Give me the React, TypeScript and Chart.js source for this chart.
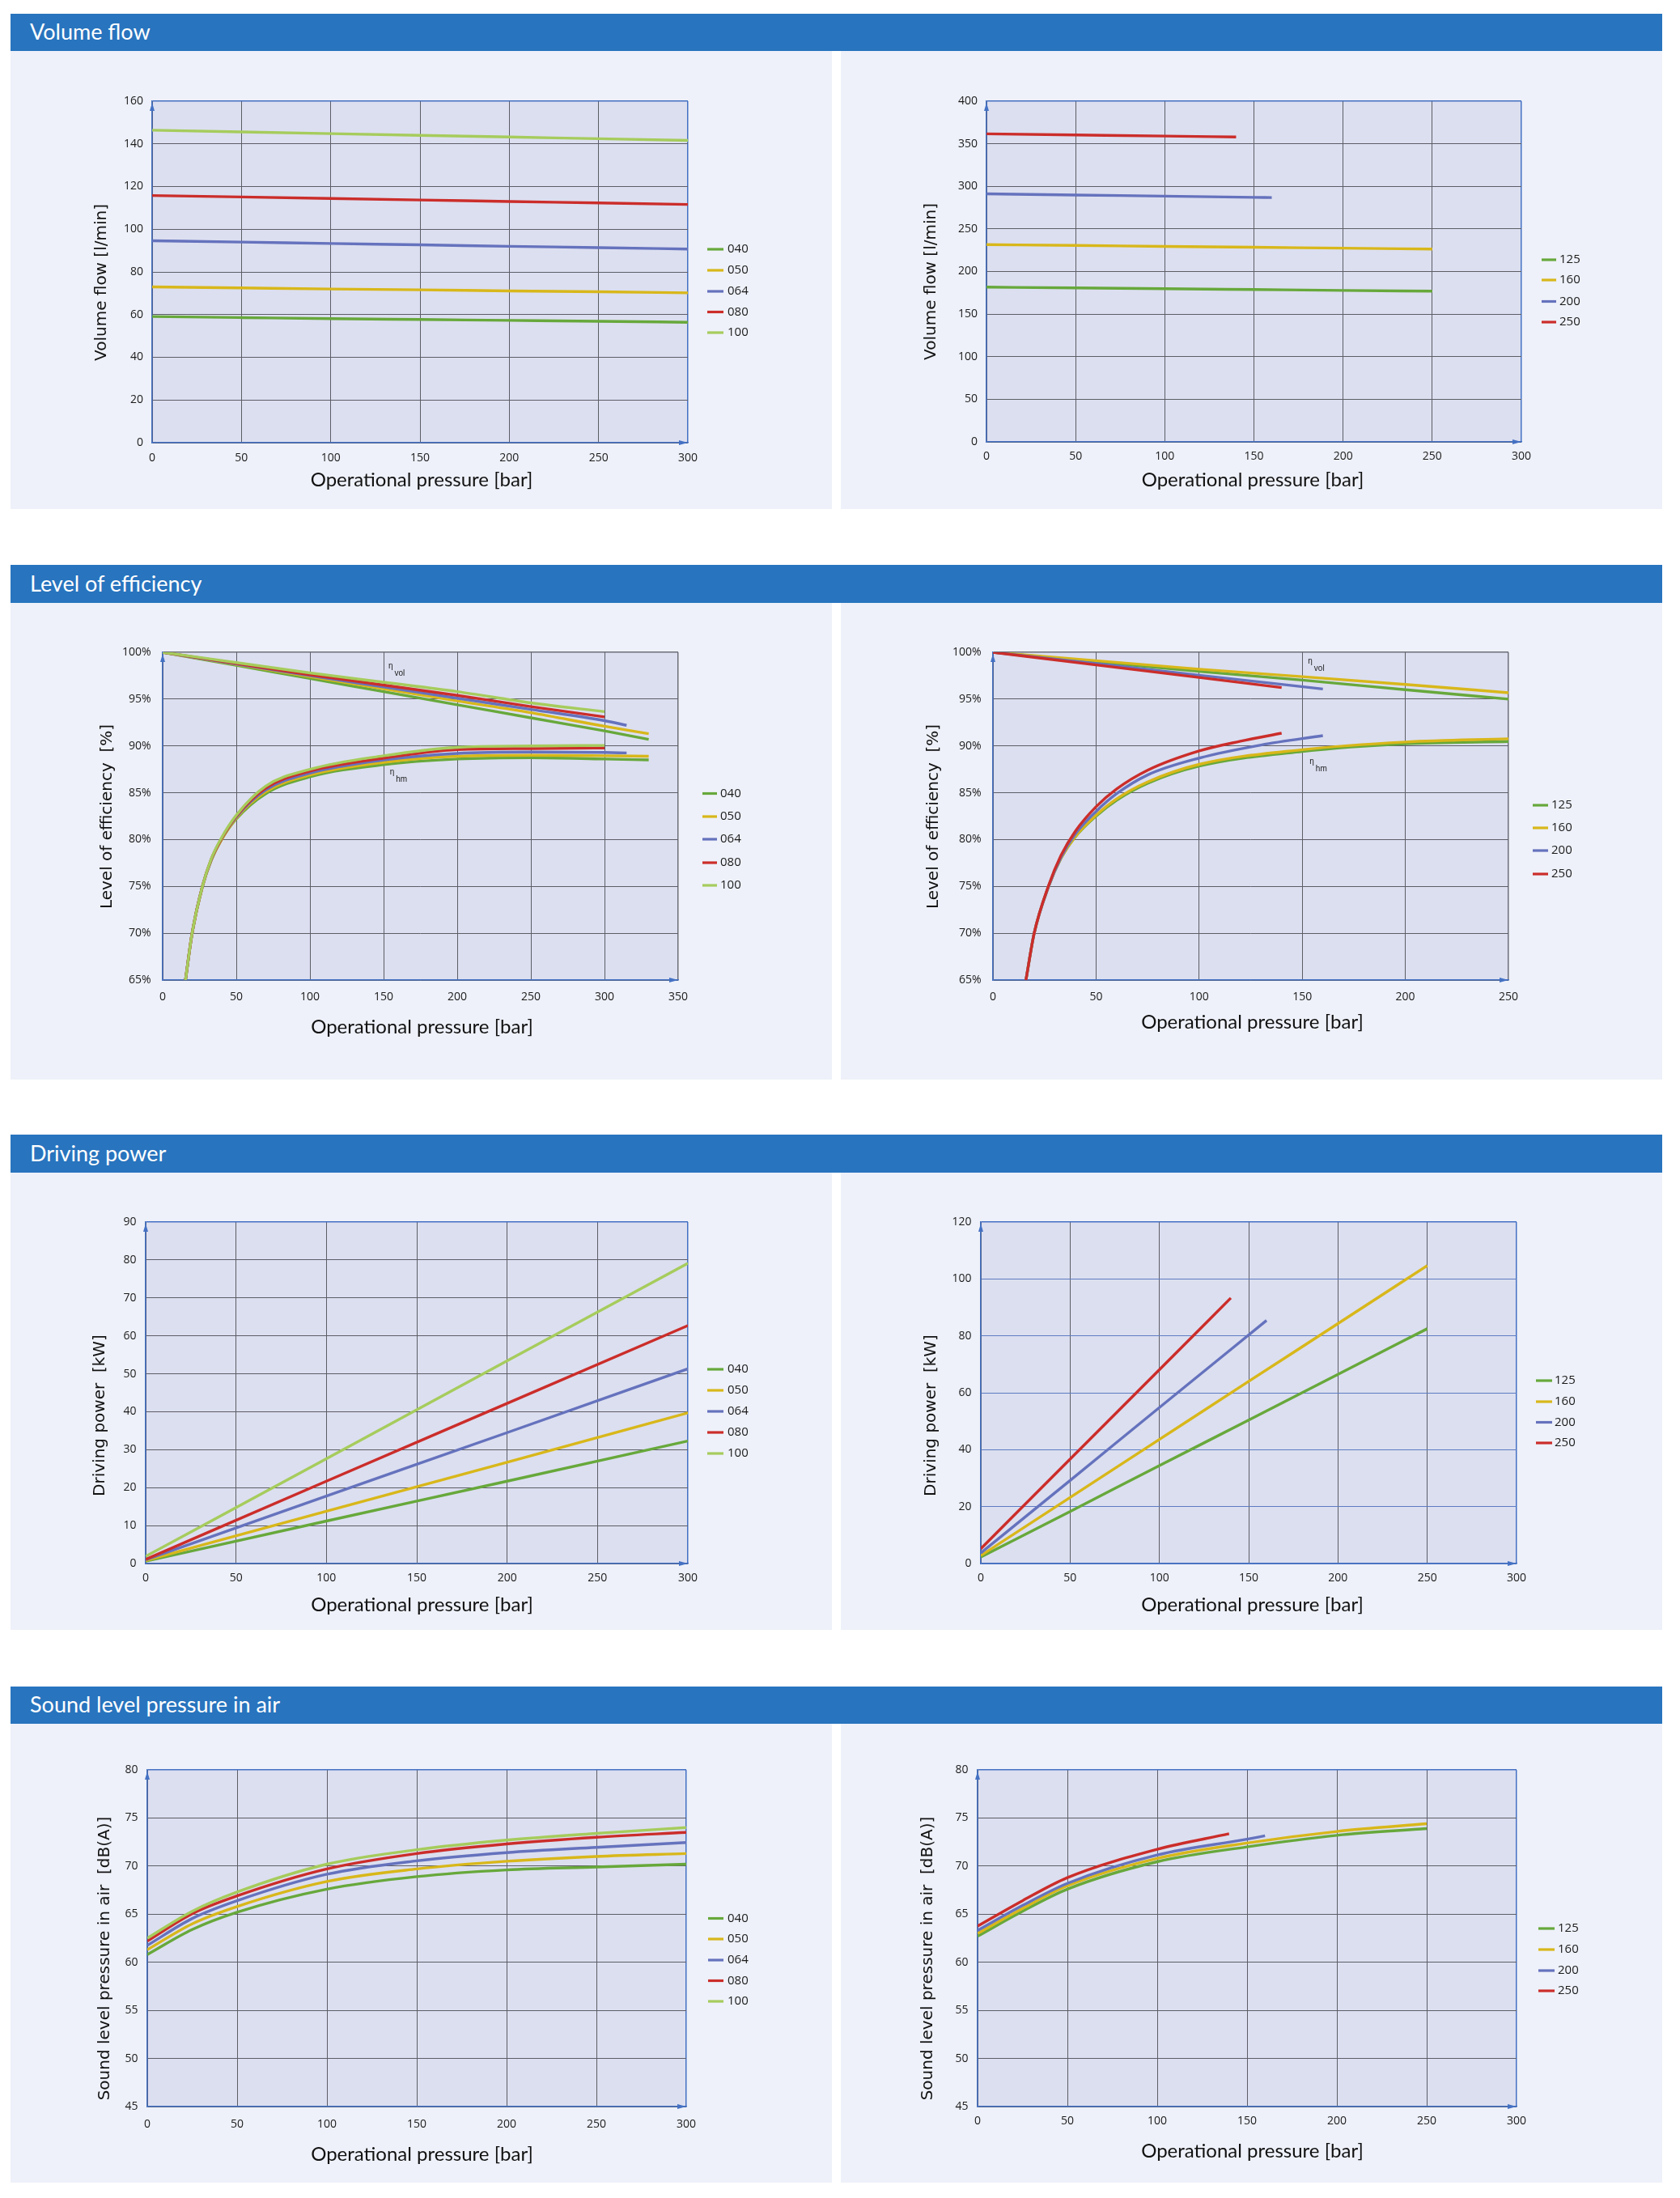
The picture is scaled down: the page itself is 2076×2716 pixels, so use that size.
import React, { useEffect, useRef } from 'react';
import { Chart, registerables } from 'chart.js';

Chart.register(...registerables);

// ================= Categories / texts =================
const SMALL_SIZES = ['040', '050', '064', '080', '100'];
const LARGE_SIZES = ['125', '160', '200', '250'];
const SECTION_TITLES = ['Volume flow', 'Level of efficiency', 'Driving power', 'Sound level pressure in air'];
const X_TITLE = 'Operational pressure [bar]';
const Y_TITLES = [
  'Volume flow [l/min]',
  'Level of efficiency  [%]',
  'Driving power  [kW]',
  'Sound level pressure in air  [dB(A)]',
];
const ETA = 'η';
const ETA_VOL = 'vol';
const ETA_HM = 'hm';

// ================= Axis ranges =================
const X_RANGE_300 = [0, 300, 50];
const X_RANGE_350 = [0, 350, 50];
const X_RANGE_250 = [0, 250, 50];
const Y_VF_SMALL = [0, 160, 20];
const Y_VF_LARGE = [0, 400, 50];
const Y_EFF = [65, 100, 5];
const Y_DP_SMALL = [0, 90, 10];
const Y_DP_LARGE = [0, 120, 20];
const Y_SOUND = [45, 80, 5];

// ================= Volume flow [l/min] =================
const VF_S_P = [0, 50, 100, 150, 200, 250, 300];
const VF_040 = [59.1, 58.6, 58.1, 57.7, 57.3, 56.9, 56.4];
const VF_050 = [73.0, 72.5, 72.0, 71.6, 71.1, 70.7, 70.2];
const VF_064 = [94.6, 94.0, 93.3, 92.7, 92.0, 91.4, 90.7];
const VF_080 = [115.8, 115.1, 114.4, 113.7, 113.0, 112.3, 111.6];
const VF_100 = [146.4, 145.6, 144.8, 144.0, 143.2, 142.4, 141.6];

const VF_125_P = [0, 50, 100, 150, 200, 250];
const VF_125 = [181.7, 180.7, 179.8, 178.8, 177.8, 176.9];
const VF_160_P = [0, 50, 100, 150, 200, 250];
const VF_160 = [231.6, 230.6, 229.5, 228.5, 227.4, 226.4];
const VF_200_P = [0, 50, 100, 150, 160];
const VF_200 = [291.2, 289.8, 288.5, 287.1, 286.8];
const VF_250_P = [0, 50, 100, 140];
const VF_250 = [361.6, 360.3, 359.0, 358.0];

// ================= Level of efficiency [%] =================
// volumetric efficiency (eta vol)
const EV_040_P = [0, 50, 100, 150, 200, 250, 300, 330];
const EV_040 = [100, 98.6, 97.2, 95.8, 94.4, 93.0, 91.6, 90.7];
const EV_050_P = [0, 50, 100, 150, 200, 250, 300, 330];
const EV_050 = [100, 98.7, 97.4, 96.1, 94.8, 93.55, 92.1, 91.3];
const EV_064_P = [0, 50, 100, 150, 200, 250, 300, 315];
const EV_064 = [100, 98.75, 97.5, 96.3, 95.1, 93.9, 92.7, 92.2];
const EV_080_P = [0, 50, 100, 150, 200, 250, 300];
const EV_080 = [100, 98.8, 97.6, 96.5, 95.4, 94.2, 93.1];
const EV_100_P = [0, 50, 100, 150, 200, 250, 300];
const EV_100 = [100, 98.9, 97.8, 96.8, 95.8, 94.6, 93.66];
// hydro-mechanical efficiency (eta hm)
const EH_040_P = [15.5, 20, 27, 33, 40, 50, 70, 100, 150, 200, 250, 300, 330];
const EH_040 = [65, 70, 75, 77.8, 80, 82.2, 84.9, 86.7, 88.0, 88.6, 88.75, 88.6, 88.5];
const EH_050_P = [15.5, 20, 27, 33, 40, 50, 70, 100, 150, 200, 250, 300, 330];
const EH_050 = [65, 70, 75, 77.8, 80, 82.3, 85.1, 86.9, 88.25, 88.9, 89.0, 88.95, 88.9];
const EH_064_P = [15.5, 20, 27, 33, 40, 50, 70, 100, 150, 200, 250, 300, 315];
const EH_064 = [65, 70, 75, 77.85, 80.1, 82.4, 85.3, 87.1, 88.5, 89.2, 89.35, 89.3, 89.25];
const EH_080_P = [15.5, 20, 27, 33, 40, 50, 70, 100, 150, 200, 250, 300];
const EH_080 = [65, 70, 75, 77.9, 80.1, 82.5, 85.5, 87.3, 88.7, 89.6, 89.72, 89.78];
const EH_100_P = [15.5, 20, 27, 33, 40, 50, 70, 100, 150, 200, 250, 300];
const EH_100 = [65, 70, 75, 77.95, 80.2, 82.6, 85.7, 87.5, 88.95, 89.85, 90.0, 90.05];

const EV_125_P = [0, 50, 100, 150, 200, 250];
const EV_125 = [100, 99.0, 97.96, 97.03, 96.0, 95.0];
const EV_160_P = [0, 50, 100, 150, 200, 250];
const EV_160 = [100, 99.1, 98.2, 97.4, 96.57, 95.68];
const EV_200_P = [0, 50, 100, 160];
const EV_200 = [100, 98.8, 97.55, 96.08];
const EV_250_P = [0, 50, 100, 140];
const EV_250 = [100, 98.65, 97.31, 96.23];

const EH_125_P = [16, 20, 27, 33, 40, 50, 60, 75, 100, 150, 200, 250];
const EH_125 = [65, 70, 75, 78, 80.3, 82.5, 84.2, 86.0, 87.84, 89.41, 90.23, 90.47];
const EH_160_P = [16, 20, 27, 33, 40, 50, 60, 75, 100, 150, 200, 250];
const EH_160 = [65, 70, 75, 78, 80.35, 82.6, 84.35, 86.15, 88.03, 89.6, 90.42, 90.76];
const EH_200_P = [16, 20, 27, 33, 40, 50, 60, 75, 100, 130, 160];
const EH_200 = [65, 70, 75, 78.1, 80.6, 83.0, 84.9, 86.9, 88.7, 90.1, 91.1];
const EH_250_P = [16, 20, 27, 33, 40, 50, 60, 75, 100, 120, 140];
const EH_250 = [65, 70, 75.1, 78.3, 80.9, 83.5, 85.4, 87.4, 89.46, 90.5, 91.36];

// eta label anchors [pressure, %]
const ETA_SMALL_VOL = [153.3, 98.23];
const ETA_SMALL_HM = [154.2, 86.95];
const ETA_LARGE_VOL = [152.8, 98.83];
const ETA_LARGE_HM = [153.6, 88.07];

// ================= Driving power [kW] =================
const DP_S_P = [0, 100, 200, 300];
const DP_040 = [0.6, 11.2, 21.7, 32.3];
const DP_050 = [0.8, 13.8, 26.7, 39.7];
const DP_064 = [1.0, 17.8, 34.5, 51.3];
const DP_080 = [1.1, 21.7, 42.2, 62.7];
const DP_100 = [1.9, 27.6, 53.4, 79.1];

const DP_125_P = [0, 50, 100, 150, 200, 250];
const DP_125 = [2.3, 18.3, 34.4, 50.4, 66.5, 82.5];
const DP_160_P = [0, 50, 100, 150, 200, 250];
const DP_160 = [2.8, 23.2, 43.6, 64.0, 84.3, 104.7];
const DP_200_P = [0, 50, 100, 160];
const DP_200 = [3.7, 29.2, 54.8, 85.4];
const DP_250_P = [0, 50, 100, 140];
const DP_250 = [5.2, 36.7, 68.1, 93.3];

// ================= Sound level pressure in air [dB(A)] =================
const SL_S_P = [0, 25, 50, 100, 150, 200, 250, 300];
const SL_040 = [60.8, 63.4, 65.2, 67.6, 68.9, 69.6, 69.9, 70.2];
const SL_050 = [61.3, 64.0, 65.8, 68.4, 69.7, 70.5, 71.0, 71.3];
const SL_064 = [61.75, 64.55, 66.4, 69.15, 70.55, 71.4, 71.95, 72.45];
const SL_080 = [62.2, 65.05, 66.9, 69.7, 71.3, 72.3, 73.0, 73.5];
const SL_100 = [62.5, 65.3, 67.3, 70.2, 71.7, 72.7, 73.4, 74.0];

const SL_125_P = [0, 25, 50, 100, 150, 200, 250];
const SL_125 = [62.7, 65.3, 67.6, 70.45, 72.0, 73.2, 73.9];
const SL_160_P = [0, 25, 50, 100, 150, 200, 250];
const SL_160 = [63.0, 65.6, 67.95, 70.8, 72.4, 73.6, 74.4];
const SL_200_P = [0, 25, 50, 100, 150, 160];
const SL_200 = [63.3, 65.9, 68.2, 71.15, 72.8, 73.15];
const SL_250_P = [0, 25, 50, 100, 140];
const SL_250 = [63.76, 66.4, 68.8, 71.75, 73.36];

// ================= Styles =================
const SERIES_COLORS = ['#67a83b', '#d8b71a', '#6572bd', '#cb2d2a', '#a6cc5c'];
const HEADER_BG = '#2874be';
const PANEL_BG = '#eef1f9';
const PLOT_BG = '#dcdff0';
const AXIS_BLUE = '#4471c3';
const GRID = '#5c5d66';
const GRID_BLUE = '#5d7cc2';
const EDGE_GRAY = '#6e6f78';
const TEXT = '#1a1a1a';
const LINE_W = 3.4;
const TICK_FONT = '"Open Sans", "Noto Sans", sans-serif';
const LEGEND_FONT = '"Open Sans", "Noto Sans", sans-serif';
const XTITLE_FONT = 'Lato, "Open Sans", sans-serif';
const YTITLE_FONT = '"DejaVu Sans", Verdana, sans-serif';
const ETA_FONT = '"Liberation Sans", Arial, sans-serif';

// ================= Layout =================
const LEFT_PANEL = [13, 1028];
const RIGHT_PANEL = [1039, 2054];
const SECTIONS = [
  { hTop: 17, hBot: 63, pBot: 629 },
  { hTop: 698, hBot: 745, pBot: 1334 },
  { hTop: 1402, hBot: 1449, pBot: 2014 },
  { hTop: 2084, hBot: 2130, pBot: 2697 },
];

type Series = { label: string; idx: number; color: string; xs: number[]; ys: number[] };

const ser = (label: string, idx: number, xs: number[], ys: number[]): Series => ({
  label,
  idx,
  color: SERIES_COLORS[idx],
  xs,
  ys,
});

type Spec = {
  section: number;
  side: 'L' | 'R';
  plot: number[];
  xr: number[];
  yr: number[];
  ySuffix: string;
  yTitle: string;
  yTitlePos: number[];
  xTitlePos: number[];
  xTickOff: number;
  yTickPad: number;
  series: Series[];
  legendLabels: string[];
  legend: { x1: number; x2: number; tx: number; ys: number[] };
  edgeColor: string;
  yGridColor: string;
  etas?: { at: number[]; sub: string }[];
};

const SPECS: Spec[] = [
  {
    section: 0, side: 'L', plot: [188, 125, 850, 547], xr: X_RANGE_300, yr: Y_VF_SMALL, ySuffix: '',
    yTitle: Y_TITLES[0], yTitlePos: [126, 349], xTitlePos: [521, 593], xTickOff: 19, yTickPad: 11,
    series: [ser(SMALL_SIZES[0], 0, VF_S_P, VF_040), ser(SMALL_SIZES[1], 1, VF_S_P, VF_050), ser(SMALL_SIZES[2], 2, VF_S_P, VF_064), ser(SMALL_SIZES[3], 3, VF_S_P, VF_080), ser(SMALL_SIZES[4], 4, VF_S_P, VF_100)],
    legendLabels: SMALL_SIZES, legend: { x1: 874, x2: 894, tx: 899, ys: [308, 334, 360, 385.5, 411] },
    edgeColor: AXIS_BLUE, yGridColor: GRID,
  },
  {
    section: 0, side: 'R', plot: [1219, 125, 1880, 546], xr: X_RANGE_300, yr: Y_VF_LARGE, ySuffix: '',
    yTitle: Y_TITLES[0], yTitlePos: [1151, 348], xTitlePos: [1548, 593], xTickOff: 18, yTickPad: 11,
    series: [ser(LARGE_SIZES[0], 0, VF_125_P, VF_125), ser(LARGE_SIZES[1], 1, VF_160_P, VF_160), ser(LARGE_SIZES[2], 2, VF_200_P, VF_200), ser(LARGE_SIZES[3], 3, VF_250_P, VF_250)],
    legendLabels: LARGE_SIZES, legend: { x1: 1905, x2: 1923, tx: 1927, ys: [321, 346, 372.5, 398] },
    edgeColor: AXIS_BLUE, yGridColor: GRID,
  },
  {
    section: 1, side: 'L', plot: [201, 806, 838, 1211], xr: X_RANGE_350, yr: Y_EFF, ySuffix: '%',
    yTitle: Y_TITLES[1], yTitlePos: [133, 1009], xTitlePos: [521.5, 1269], xTickOff: 21, yTickPad: 14.5,
    series: [
      ser(SMALL_SIZES[0], 0, EV_040_P, EV_040), ser(SMALL_SIZES[1], 1, EV_050_P, EV_050), ser(SMALL_SIZES[2], 2, EV_064_P, EV_064), ser(SMALL_SIZES[3], 3, EV_080_P, EV_080), ser(SMALL_SIZES[4], 4, EV_100_P, EV_100),
      ser(SMALL_SIZES[0], 0, EH_040_P, EH_040), ser(SMALL_SIZES[1], 1, EH_050_P, EH_050), ser(SMALL_SIZES[2], 2, EH_064_P, EH_064), ser(SMALL_SIZES[3], 3, EH_080_P, EH_080), ser(SMALL_SIZES[4], 4, EH_100_P, EH_100),
    ],
    legendLabels: SMALL_SIZES, legend: { x1: 868, x2: 886, tx: 890, ys: [980.5, 1009, 1037, 1066, 1094] },
    edgeColor: EDGE_GRAY, yGridColor: GRID,
    etas: [{ at: ETA_SMALL_VOL, sub: ETA_VOL }, { at: ETA_SMALL_HM, sub: ETA_HM }],
  },
  {
    section: 1, side: 'R', plot: [1227, 806, 1864, 1211], xr: X_RANGE_250, yr: Y_EFF, ySuffix: '%',
    yTitle: Y_TITLES[1], yTitlePos: [1154, 1009], xTitlePos: [1547.5, 1263], xTickOff: 21, yTickPad: 14.5,
    series: [
      ser(LARGE_SIZES[0], 0, EV_125_P, EV_125), ser(LARGE_SIZES[1], 1, EV_160_P, EV_160), ser(LARGE_SIZES[2], 2, EV_200_P, EV_200), ser(LARGE_SIZES[3], 3, EV_250_P, EV_250),
      ser(LARGE_SIZES[0], 0, EH_125_P, EH_125), ser(LARGE_SIZES[1], 1, EH_160_P, EH_160), ser(LARGE_SIZES[2], 2, EH_200_P, EH_200), ser(LARGE_SIZES[3], 3, EH_250_P, EH_250),
    ],
    legendLabels: LARGE_SIZES, legend: { x1: 1894, x2: 1913, tx: 1917, ys: [995, 1023, 1051, 1080] },
    edgeColor: EDGE_GRAY, yGridColor: GRID,
    etas: [{ at: ETA_LARGE_VOL, sub: ETA_VOL }, { at: ETA_LARGE_HM, sub: ETA_HM }],
  },
  {
    section: 2, side: 'L', plot: [180, 1510, 850, 1932], xr: X_RANGE_300, yr: Y_DP_SMALL, ySuffix: '',
    yTitle: Y_TITLES[2], yTitlePos: [124, 1749], xTitlePos: [521.5, 1983], xTickOff: 18, yTickPad: 11.5,
    series: [ser(SMALL_SIZES[0], 0, DP_S_P, DP_040), ser(SMALL_SIZES[1], 1, DP_S_P, DP_050), ser(SMALL_SIZES[2], 2, DP_S_P, DP_064), ser(SMALL_SIZES[3], 3, DP_S_P, DP_080), ser(SMALL_SIZES[4], 4, DP_S_P, DP_100)],
    legendLabels: SMALL_SIZES, legend: { x1: 874, x2: 894, tx: 899, ys: [1692, 1718, 1744, 1770, 1796] },
    edgeColor: AXIS_BLUE, yGridColor: GRID,
  },
  {
    section: 2, side: 'R', plot: [1212, 1510, 1874, 1932], xr: X_RANGE_300, yr: Y_DP_LARGE, ySuffix: '',
    yTitle: Y_TITLES[2], yTitlePos: [1151, 1749], xTitlePos: [1547.5, 1983], xTickOff: 18.5, yTickPad: 11.5,
    series: [ser(LARGE_SIZES[0], 0, DP_125_P, DP_125), ser(LARGE_SIZES[1], 1, DP_160_P, DP_160), ser(LARGE_SIZES[2], 2, DP_200_P, DP_200), ser(LARGE_SIZES[3], 3, DP_250_P, DP_250)],
    legendLabels: LARGE_SIZES, legend: { x1: 1898, x2: 1918, tx: 1921, ys: [1706, 1732, 1757.5, 1783] },
    edgeColor: AXIS_BLUE, yGridColor: GRID_BLUE,
  },
  {
    section: 3, side: 'L', plot: [182, 2187, 848, 2603], xr: X_RANGE_300, yr: Y_SOUND, ySuffix: '',
    yTitle: Y_TITLES[3], yTitlePos: [129.5, 2420], xTitlePos: [521.5, 2662], xTickOff: 22, yTickPad: 11.5,
    series: [ser(SMALL_SIZES[0], 0, SL_S_P, SL_040), ser(SMALL_SIZES[1], 1, SL_S_P, SL_050), ser(SMALL_SIZES[2], 2, SL_S_P, SL_064), ser(SMALL_SIZES[3], 3, SL_S_P, SL_080), ser(SMALL_SIZES[4], 4, SL_S_P, SL_100)],
    legendLabels: SMALL_SIZES, legend: { x1: 875, x2: 894, tx: 899, ys: [2370.5, 2396, 2422, 2447.5, 2473] },
    edgeColor: AXIS_BLUE, yGridColor: GRID,
  },
  {
    section: 3, side: 'R', plot: [1208, 2187, 1874, 2603], xr: X_RANGE_300, yr: Y_SOUND, ySuffix: '',
    yTitle: Y_TITLES[3], yTitlePos: [1147, 2420], xTitlePos: [1547.5, 2658], xTickOff: 18, yTickPad: 11.5,
    series: [ser(LARGE_SIZES[0], 0, SL_125_P, SL_125), ser(LARGE_SIZES[1], 1, SL_160_P, SL_160), ser(LARGE_SIZES[2], 2, SL_200_P, SL_200), ser(LARGE_SIZES[3], 3, SL_250_P, SL_250)],
    legendLabels: LARGE_SIZES, legend: { x1: 1901, x2: 1921, tx: 1925, ys: [2383, 2409, 2435, 2460] },
    edgeColor: AXIS_BLUE, yGridColor: GRID,
  },
];

function panelRect(spec: Spec) {
  const sec = SECTIONS[spec.section];
  const px = spec.side === 'L' ? LEFT_PANEL : RIGHT_PANEL;
  return { left: px[0], top: sec.hBot, right: px[1], bottom: sec.pBot };
}

function buildChart(canvas: HTMLCanvasElement, spec: Spec) {
  const pr = panelRect(spec);
  const [L, T, R, B] = spec.plot;
  const YW = 70;
  const XH = 40;
  const ox = pr.left;
  const oy = pr.top;
  const tickLH = 14 * 1.2;

  const deco = {
    id: 'deco',
    beforeDraw(chart: any) {
      const { ctx, chartArea: ca } = chart;
      ctx.save();
      ctx.fillStyle = PLOT_BG;
      ctx.fillRect(ca.left, ca.top, ca.right - ca.left, ca.bottom - ca.top);
      ctx.restore();
    },
    afterDraw(chart: any) {
      const { ctx, chartArea: ca } = chart;
      ctx.save();
      // axis arrows
      ctx.fillStyle = AXIS_BLUE;
      ctx.beginPath();
      ctx.moveTo(ca.left, ca.top + 2);
      ctx.lineTo(ca.left - 3, ca.top + 12);
      ctx.lineTo(ca.left + 3, ca.top + 12);
      ctx.closePath();
      ctx.fill();
      ctx.beginPath();
      ctx.moveTo(ca.right, ca.bottom);
      ctx.lineTo(ca.right - 11, ca.bottom - 3);
      ctx.lineTo(ca.right - 11, ca.bottom + 3);
      ctx.closePath();
      ctx.fill();

      // axis titles
      ctx.fillStyle = '#111';
      ctx.textAlign = 'center';
      ctx.textBaseline = 'middle';
      ctx.font = `24px ${XTITLE_FONT}`;
      ctx.fillText(X_TITLE, spec.xTitlePos[0] - ox, spec.xTitlePos[1] - oy);
      ctx.save();
      ctx.translate(spec.yTitlePos[0] - ox, spec.yTitlePos[1] - oy);
      ctx.rotate(-Math.PI / 2);
      ctx.font = `20px ${YTITLE_FONT}`;
      ctx.fillText(spec.yTitle, 0, 0);
      ctx.restore();

      // legend
      ctx.font = `15px ${LEGEND_FONT}`;
      ctx.textAlign = 'left';
      ctx.textBaseline = 'middle';
      spec.legendLabels.forEach((lab, i) => {
        const y = spec.legend.ys[i] - oy;
        ctx.strokeStyle = SERIES_COLORS[i];
        ctx.lineWidth = 3.2;
        ctx.beginPath();
        ctx.moveTo(spec.legend.x1 - ox, y);
        ctx.lineTo(spec.legend.x2 - ox, y);
        ctx.stroke();
        ctx.fillStyle = TEXT;
        ctx.fillText(lab, spec.legend.tx - ox, y);
      });

      // eta labels
      if (spec.etas) {
        const xs = chart.scales.x;
        const ys = chart.scales.y;
        ctx.fillStyle = '#222';
        ctx.textBaseline = 'alphabetic';
        ctx.textAlign = 'left';
        ctx.font = `10px ${ETA_FONT}`;
        spec.etas.forEach((e) => {
          const px = xs.getPixelForValue(e.at[0]);
          const py = ys.getPixelForValue(e.at[1]);
          ctx.fillText(ETA, px, py);
          ctx.fillText(e.sub, px + 7.5, py + 9);
        });
      }
      ctx.restore();
    },
  };

  const isEdge = (max: number) => (c: any) => !!(c.tick && Math.abs(c.tick.value - max) < 1e-9);

  return new Chart(canvas, {
    type: 'line',
    data: {
      datasets: spec.series.map((s) => ({
        label: s.label,
        data: s.xs.map((x, i) => ({ x, y: s.ys[i] })),
        borderColor: s.color,
        backgroundColor: s.color,
        borderWidth: LINE_W,
        pointRadius: 0,
        pointHoverRadius: 0,
        fill: false,
        cubicInterpolationMode: 'monotone',
        borderCapStyle: 'butt',
        // later sizes are painted on top of earlier ones
        order: 10 - s.idx,
      })),
    },
    options: {
      animation: false,
      responsive: false,
      maintainAspectRatio: false,
      devicePixelRatio: 1,
      events: [],
      layout: {
        padding: {
          left: L - ox - YW,
          top: T - oy,
          right: pr.right - R,
          bottom: pr.bottom - B - XH,
        },
      },
      plugins: {
        legend: { display: false },
        tooltip: { enabled: false },
        title: { display: false },
      },
      scales: {
        x: {
          type: 'linear',
          min: spec.xr[0],
          max: spec.xr[1],
          ticks: {
            stepSize: spec.xr[2],
            padding: spec.xTickOff - tickLH / 2,
            font: { family: TICK_FONT, size: 14 },
            color: TEXT,
            maxRotation: 0,
            autoSkip: false,
          },
          grid: {
            color: (c: any) => (isEdge(spec.xr[1])(c) ? spec.edgeColor : GRID),
            lineWidth: (c: any) => (isEdge(spec.xr[1])(c) ? 1.5 : 1),
            drawTicks: false,
          },
          border: { display: true, color: AXIS_BLUE, width: 1.5 },
          afterFit: (s: any) => {
            s.height = XH;
          },
        },
        y: {
          type: 'linear',
          min: spec.yr[0],
          max: spec.yr[1],
          ticks: {
            stepSize: spec.yr[2],
            padding: spec.yTickPad,
            font: { family: TICK_FONT, size: 14 },
            color: TEXT,
            autoSkip: false,
            callback: (v: any) => `${v}${spec.ySuffix}`,
          },
          grid: {
            color: (c: any) => (isEdge(spec.yr[1])(c) ? spec.edgeColor : spec.yGridColor),
            lineWidth: (c: any) => (isEdge(spec.yr[1])(c) ? 1.5 : 1),
            drawTicks: false,
          },
          border: { display: true, color: AXIS_BLUE, width: 1.5 },
          afterFit: (s: any) => {
            s.width = YW;
          },
        },
      },
    },
    plugins: [deco],
  } as any);
}

function ChartCanvas({ spec }: { spec: Spec }) {
  const ref = useRef<HTMLCanvasElement | null>(null);
  const pr = panelRect(spec);
  const W = pr.right - pr.left;
  const H = pr.bottom - pr.top;
  useEffect(() => {
    if (!ref.current) return;
    const chart = buildChart(ref.current, spec);
    return () => chart.destroy();
  }, [spec]);
  return (
    <canvas
      ref={ref}
      width={W}
      height={H}
      style={{ position: 'absolute', left: pr.left, top: pr.top, width: W, height: H, display: 'block' }}
    />
  );
}

export default function App() {
  return (
    <div
      style={{
        position: 'absolute',
        left: 0,
        top: 0,
        width: 2076,
        height: 2716,
        background: '#ffffff',
        overflow: 'hidden',
      }}
    >
      {SECTIONS.map((s, i) => (
        <React.Fragment key={i}>
          <div
            style={{
              position: 'absolute',
              left: LEFT_PANEL[0],
              top: s.hTop,
              width: RIGHT_PANEL[1] - LEFT_PANEL[0],
              height: s.hBot - s.hTop,
              background: HEADER_BG,
              color: '#ffffff',
              fontFamily: 'Lato, "Open Sans", sans-serif',
              fontSize: 27,
              lineHeight: `${s.hBot - s.hTop - 2}px`,
              paddingLeft: 24,
              boxSizing: 'border-box',
              whiteSpace: 'nowrap',
            }}
          >
            {SECTION_TITLES[i]}
          </div>
          <div
            style={{
              position: 'absolute',
              left: LEFT_PANEL[0],
              top: s.hBot,
              width: LEFT_PANEL[1] - LEFT_PANEL[0],
              height: s.pBot - s.hBot,
              background: PANEL_BG,
            }}
          />
          <div
            style={{
              position: 'absolute',
              left: RIGHT_PANEL[0],
              top: s.hBot,
              width: RIGHT_PANEL[1] - RIGHT_PANEL[0],
              height: s.pBot - s.hBot,
              background: PANEL_BG,
            }}
          />
        </React.Fragment>
      ))}
      {SPECS.map((sp, i) => (
        <ChartCanvas key={i} spec={sp} />
      ))}
    </div>
  );
}
